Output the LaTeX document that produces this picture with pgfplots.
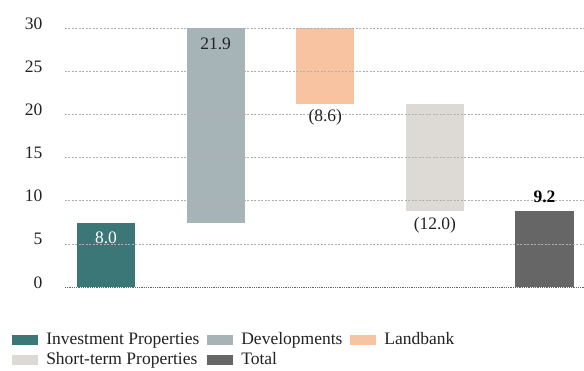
\documentclass[border=0pt]{standalone}
\usepackage{pgfplots}
\pgfplotsset{compat=1.18}
\usepackage{fontspec}
\setmainfont{Liberation Serif}
\definecolor{cInv}{HTML}{3B7777}
\definecolor{cDev}{HTML}{A6B4B8}
\definecolor{cLand}{HTML}{F8C3A0}
\definecolor{cShort}{HTML}{DDDAD5}
\definecolor{cTot}{HTML}{666666}
\definecolor{cGrid}{HTML}{B0B0B0}
\definecolor{cTxt}{HTML}{222222}
\begin{document}
\begin{tikzpicture}
\useasboundingbox (-65pt,-83pt) rectangle (519pt,287pt);
\begin{axis}[
  scale only axis, width=519pt, height=259pt,
  xmin=-0.374, xmax=4.36, ymin=0, ymax=30,
  ybar stacked, bar width=0.53,
  axis lines=none, clip=false,
  xtick=\empty, ytick=\empty,
  legend columns=3,
  legend style={at={(axis description cs:-0.102,-0.168)}, anchor=north west, draw=none,
    font=\fontsize{17.5}{20}\selectfont, text=cTxt,
    /tikz/every odd column/.append style={column sep=6pt},
    /tikz/every even column/.append style={column sep=6pt},
    row sep=2.5pt, inner sep=0pt},
  legend image code/.code={\fill[#1] (0pt,-5pt) rectangle (26pt,5pt);},
  legend cell align=left,
]
% gridlines and tick labels
\pgfplotsinvokeforeach{5,10,15,20,25,30}{
  \draw[cGrid, dash pattern=on 2pt off 1.5pt, line width=0.5pt] (axis cs:-0.374,#1) -- (axis cs:4.36,#1);
}
\draw[gray!80!black, densely dotted, line width=0.8pt] (axis cs:-0.374,0) -- (axis cs:4.36,0);
\pgfplotsinvokeforeach{0,5,10,15,20,25,30}{
  \node[anchor=east, text=cTxt, font=\fontsize{17.5}{20}\selectfont] at ([xshift=-19pt,yshift=4.5pt]axis cs:-0.374,#1) {#1};
}
% invisible base
\addplot[draw=none, fill=none, forget plot] coordinates {(0,0) (1,7.45) (2,21.2) (3,8.8) (4,0)};
\addplot[fill=cInv, draw=none] coordinates {(0,7.45) (1,0) (2,0) (3,0) (4,0)};
\addlegendentry{Investment Properties}
\addplot[fill=cDev, draw=none] coordinates {(0,0) (1,22.55) (2,0) (3,0) (4,0)};
\addlegendentry{Developments}
\addplot[fill=cLand, draw=none] coordinates {(0,0) (1,0) (2,8.8) (3,0) (4,0)};
\addlegendentry{Landbank}
\addplot[fill=cShort, draw=none] coordinates {(0,0) (1,0) (2,0) (3,12.4) (4,0)};
\addlegendentry{Short-term Properties}
\addplot[fill=cTot, draw=none] coordinates {(0,0) (1,0) (2,0) (3,0) (4,8.8)};
\addlegendentry{Total}
% label anchors
\coordinate (L1) at (axis cs:0,5.7);
\coordinate (L2) at (axis cs:1,28.2);
\coordinate (L3) at (axis cs:2,19.6);
\coordinate (L4) at (axis cs:3,7.2);
\coordinate (L5) at (axis cs:4,10.4);
\end{axis}
\node[text=white, font=\fontsize{17.5}{20}\selectfont] at (L1) {8.0};
\node[text=cTxt, font=\fontsize{17.5}{20}\selectfont] at (L2) {21.9};
\node[text=cTxt, font=\fontsize{17.5}{20}\selectfont] at (L3) {(8.6)};
\node[text=cTxt, font=\fontsize{17.5}{20}\selectfont] at (L4) {(12.0)};
\node[text=black, font=\fontsize{17.5}{20}\selectfont\bfseries] at (L5) {9.2};
\end{tikzpicture}
\end{document}
